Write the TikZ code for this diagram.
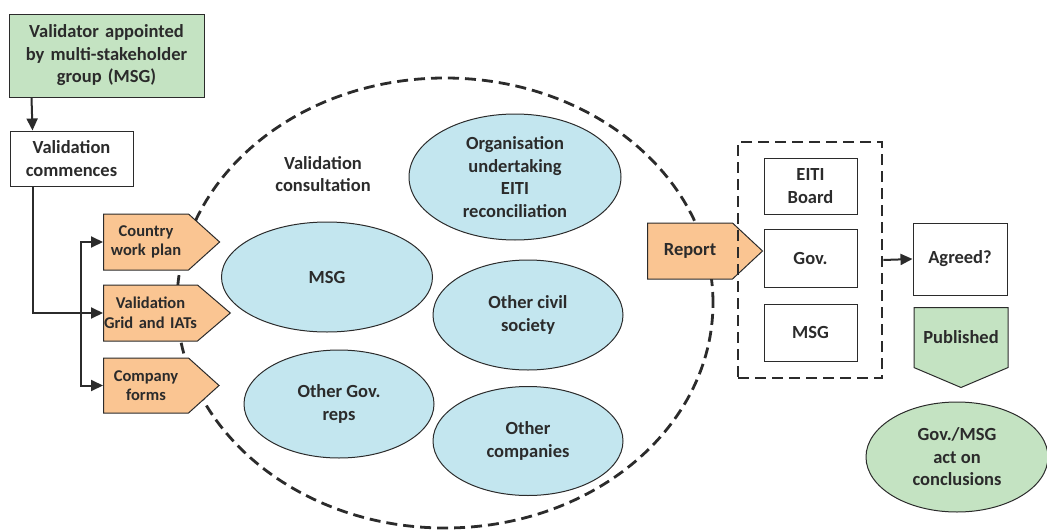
\documentclass[tikz,border=0pt]{standalone}
\usepackage{fontspec}
\setmainfont{Carlito}
\usetikzlibrary{shapes.geometric, shapes.symbols, arrows.meta, positioning, calc}
\definecolor{eitigreen}{HTML}{C4E3C2}
\definecolor{eitiorange}{HTML}{FAC592}
\definecolor{eitiblue}{HTML}{C3E6EF}
\definecolor{eitiline}{HTML}{2B2B2B}

\begin{document}
\begin{tikzpicture}[
    x=1pt, y=-1pt,
    every node/.style={font=\fontsize{18.5}{22.5}\selectfont\bfseries, text=eitiline, align=center},
    stepbox/.style={rectangle, draw=eitiline, line width=1pt, fill=#1, inner sep=0pt},
    stepbox/.default=white,
    tagnode/.style={signal, signal to=east, draw=eitiline, line width=1pt, fill=eitiorange, inner xsep=0pt, inner ysep=0pt, text width=#1, minimum height=56pt, font=\fontsize{16.5}{19.5}\selectfont\bfseries},
    group/.style={ellipse, draw=eitiline, line width=1pt, fill=eitiblue, inner sep=0pt},
    zone/.style={draw=eitiline, line width=2.8pt, dash pattern=on 11pt off 6pt},
    arrow/.style={-{Triangle[length=12pt, width=11pt]}, line width=2pt, color=eitiline}
]
\useasboundingbox (0,0) rectangle (1047,530);

% Consultation area
\node[zone, ellipse, minimum width=536pt, minimum height=450pt] (consult) at (445,303) {};
\node (consultlabel) at (323,174) {Validation\\consultation};

% Start of validation
\node[stepbox=eitigreen, minimum width=195pt, minimum height=83pt, text width=190pt] (appointed) at (106.5,55.5) {Validator appointed\\by multi-stakeholder\\group (MSG)};
\node[stepbox, minimum width=123pt, minimum height=55pt, text width=120pt] (commences) at (71.5,158.5) {Validation\\commences};

% Inputs
\node[tagnode=85pt, signal pointer angle=84, anchor=west] (workplan) at (103,242) {Country\\work plan};
\node[tagnode=94pt, signal pointer angle=81, anchor=west] (grid) at (103,313) {Validation\\Grid and IATs};
\node[tagnode=85pt, signal pointer angle=84, minimum height=55pt, anchor=west] (forms) at (103,385.5) {Company\\forms};

% Stakeholders consulted
\node[group, minimum width=212pt, minimum height=126pt] (organisation) at (515,177) {Organisation\\undertaking\\EITI\\reconciliation};
\node[group, minimum width=211pt, minimum height=110pt] (msg) at (327,277) {MSG};
\node[group, minimum width=190pt, minimum height=110pt] (civil) at (528,315) {Other civil\\society};
\node[group, minimum width=190pt, minimum height=108pt] (govreps) at (339,404) {Other Gov.\\reps};
\node[group, minimum width=190pt, minimum height=109pt] (companies) at (528,441) {Other\\companies};

% Report and review
\node[tagnode=85pt, signal pointer angle=86, anchor=west, font=\fontsize{18.5}{22.5}\selectfont\bfseries] (report) at (647,251) {Report};
\node[zone, minimum width=144pt, minimum height=236pt] (review) at (810,260) {};
\node[stepbox, minimum width=93pt, minimum height=56pt] (board) at (810.5,186) {EITI\\Board};
\node[stepbox, minimum width=93pt, minimum height=58pt] (gov) at (810.5,258) {Gov.};
\node[stepbox, minimum width=93pt, minimum height=57pt] (msgreview) at (810.5,332.5) {MSG};

% Outcome
\node[stepbox, minimum width=94pt, minimum height=72pt] (agreed) at (960,259) {Agreed?};
\node[signal, signal to=south, signal pointer angle=134, draw=eitiline, line width=1pt, fill=eitigreen, inner sep=0pt, text width=94pt, minimum height=80pt, anchor=north] (published) at (961,307) {Published};
\node[group, fill=eitigreen, minimum width=182pt, minimum height=110pt] (conclusions) at (957,457) {Gov./MSG\\act on\\conclusions};

% Connectors
\coordinate (branch) at (81,313);
\draw[arrow] ([xshift=23pt]appointed.south west) -- ([xshift=23pt]commences.north west);
\draw[arrow] ([xshift=23pt]commences.south west) |- (grid.west);
\draw[arrow] (branch) |- (workplan.west);
\draw[arrow] (branch) |- (forms.west);
\draw[arrow] (review.east) -- (agreed.west);

\end{tikzpicture}
\end{document}
